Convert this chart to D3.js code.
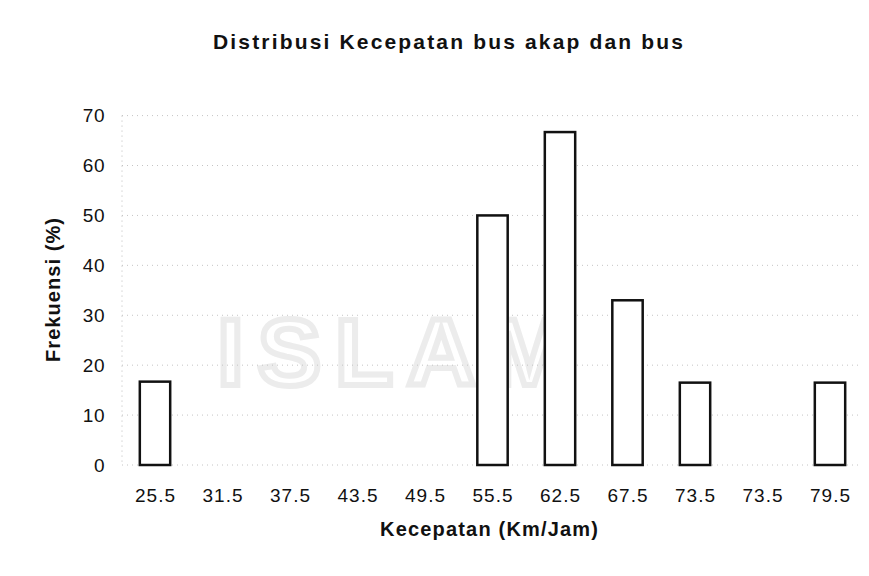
<!DOCTYPE html>
<html><head><meta charset="utf-8">
<script src="https://cdn.jsdelivr.net/npm/d3@7"></script>
<style>body{margin:0;background:#fff}svg{display:block}text{font-family:"Liberation Sans",Arial,sans-serif}</style>
</head><body>
<script>
const categories = ["25.5","31.5","37.5","43.5","49.5","55.5","62.5","67.5","73.5","73.5 ","79.5"];
const frekuensi = [16.7, 0, 0, 0, 0, 50, 66.7, 33, 16.5, 0, 16.5];
const yTicks = [0,10,20,30,40,50,60,70];
const title = "Distribusi Kecepatan bus akap dan bus";
const xTitle = "Kecepatan (Km/Jam)";
const yTitle = "Frekuensi (%)";

const W = 869, H = 576;
const svg = d3.select("body").append("svg").attr("width", W).attr("height", H);

// faint background watermark
svg.append("text").attr("x", 400).attr("y", 385).attr("text-anchor","middle")
  .attr("font-size", 95).attr("font-weight","bold").attr("letter-spacing", 14)
  .attr("fill","none").attr("stroke","#ececec").attr("stroke-width",6).text("ISLAM");

const x = d3.scaleBand().domain(categories).range([121.25, 863.75]).paddingInner(0.55).paddingOuter(0.275);
const y = d3.scaleLinear().domain([0,70]).range([465, 115.6]);

// gridlines
svg.append("g").selectAll("line").data(yTicks).join("line")
  .attr("x1", 122).attr("x2", 860)
  .attr("y1", d => y(d)).attr("y2", d => y(d))
  .attr("stroke", "#c4c4c4").attr("stroke-width", 1).attr("stroke-dasharray", "1,4");

// y axis line
svg.append("line").attr("x1",122).attr("x2",122).attr("y1",y(70)).attr("y2",y(0))
  .attr("stroke","#bbb").attr("stroke-dasharray","1,4");

// y tick labels
svg.append("g").selectAll("text").data(yTicks).join("text")
  .attr("x", 105).attr("y", d => y(d)).attr("dy","0.36em").attr("text-anchor","end")
  .attr("font-size", 19).attr("letter-spacing", 0.5).attr("fill","#111").text(d => d);

// bars
svg.append("g").selectAll("rect").data(categories.map((c,i)=>({c,v:frekuensi[i]})).filter(d=>d.v>0)).join("rect")
  .attr("x", d => x(d.c)).attr("width", x.bandwidth())
  .attr("y", d => y(d.v)).attr("height", d => y(0) - y(d.v))
  .attr("fill","#fff").attr("stroke","#111").attr("stroke-width",2.5);

// x tick labels
svg.append("g").selectAll("text").data(categories).join("text")
  .attr("x", d => x(d) + x.bandwidth()/2).attr("y", 502).attr("text-anchor","middle")
  .attr("font-size", 19).attr("fill","#111")
  .attr("textLength", 40).attr("lengthAdjust","spacing").text(d => d.trim());

// titles
svg.append("text").attr("x", 448).attr("y", 49).attr("text-anchor","middle")
  .attr("font-size", 21).attr("font-weight","bold").attr("fill","#111")
  .attr("textLength", 470).attr("lengthAdjust","spacing").text(title);
svg.append("text").attr("x", 489).attr("y", 536).attr("text-anchor","middle")
  .attr("font-size", 20).attr("font-weight","bold").attr("fill","#111")
  .attr("textLength", 218).attr("lengthAdjust","spacing").text(xTitle);
svg.append("text").attr("transform","translate(60,290) rotate(-90)").attr("text-anchor","middle")
  .attr("font-size", 20).attr("font-weight","bold").attr("fill","#111")
  .attr("textLength", 144).attr("lengthAdjust","spacing").text(yTitle);
</script>
</body></html>
